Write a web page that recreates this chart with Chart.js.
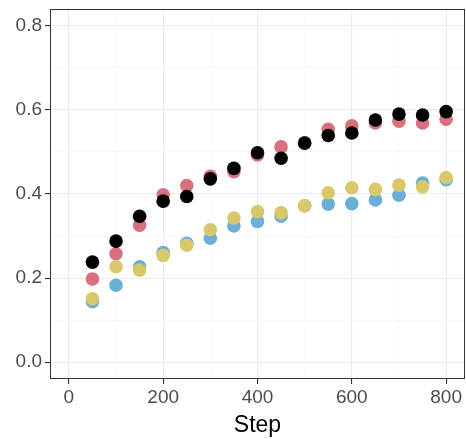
<!DOCTYPE html>
<html>
<head>
<meta charset="utf-8">
<script src="https://cdn.jsdelivr.net/npm/chart.js@4.4.1/dist/chart.umd.min.js"></script>
<style>
  html, body { margin: 0; padding: 0; background: #fff; overflow: hidden; }
  canvas { display: block; }
</style>
</head>
<body>
<canvas id="chart" width="466" height="439"></canvas>
<script>
// ── Data ──────────────────────────────────────────────────────────────────────
const steps = [50, 100, 150, 200, 250, 300, 350, 400, 450, 500, 550, 600, 650, 700, 750, 800];

const redVals    = [0.198, 0.258, 0.326, 0.398, 0.420, 0.442, 0.453, 0.493, 0.512, 0.522, 0.554, 0.562, 0.569, 0.573, 0.569, 0.578];
const blueVals   = [0.144, 0.183, 0.227, 0.261, 0.283, 0.295, 0.324, 0.335, 0.347, 0.372, 0.376, 0.377, 0.386, 0.397, 0.426, 0.434];
const yellowVals = [0.151, 0.227, 0.219, 0.254, 0.278, 0.315, 0.343, 0.358, 0.355, 0.372, 0.403, 0.415, 0.411, 0.421, 0.417, 0.439];
const blackVals  = [0.238, 0.288, 0.347, 0.383, 0.394, 0.436, 0.461, 0.498, 0.485, 0.521, 0.539, 0.545, 0.576, 0.590, 0.588, 0.596];

const xGrid = [0, 100, 200, 300, 400, 500, 600, 700, 800];
const xMajor = [0, 200, 400, 600, 800];
const yGrid = [0, 0.1, 0.2, 0.3, 0.4, 0.5, 0.6, 0.7, 0.8];
const yMajor = [0, 0.2, 0.4, 0.6, 0.8];

const COLORS = { red: '#D9707F', blue: '#6BAED6', yellow: '#D8C86A', black: '#000000' };
const FONT = 'Liberation Sans, Arial, sans-serif';

const isMajor = (list, v) => list.some(m => Math.abs(m - v) < 1e-6);
const pts = vals => vals.map((v, i) => ({ x: steps[i], y: v }));

function series(label, vals, color) {
  return {
    label, data: pts(vals),
    backgroundColor: color, borderColor: color,
    pointRadius: 6.8, pointHoverRadius: 6.8, borderWidth: 0, showLine: false
  };
}

// panel border (theme_bw)
const panelBorder = {
  id: 'panelBorder',
  afterDraw(chart) {
    const { ctx, chartArea: a } = chart;
    ctx.save();
    ctx.strokeStyle = '#333333';
    ctx.lineWidth = 1;
    ctx.strokeRect(a.left + 0.5, a.top + 0.5, a.right - a.left - 1, a.bottom - a.top - 1);
    ctx.restore();
  }
};

const gridOpts = major => ({
  color: c => isMajor(major, c.tick.value) ? '#EBEBEB' : '#F4F4F4',
  lineWidth: c => isMajor(major, c.tick.value) ? 1.1 : 0.6,
  tickColor: c => isMajor(major, c.tick.value) ? '#333333' : 'rgba(0,0,0,0)',
  tickLength: 5,
  tickWidth: 1.1
});

// first dataset is drawn on top in Chart.js
new Chart(document.getElementById('chart'), {
  type: 'scatter',
  data: {
    datasets: [
      series('black', blackVals, COLORS.black),
      series('yellow', yellowVals, COLORS.yellow),
      series('blue', blueVals, COLORS.blue),
      series('red', redVals, COLORS.red)
    ]
  },
  options: {
    responsive: false, animation: false,
    layout: { autoPadding: false, padding: { top: 9, right: 1, left: 0, bottom: 0 } },
    plugins: { legend: { display: false }, tooltip: { enabled: false } },
    scales: {
      x: {
        type: 'linear', min: -40, max: 840,
        afterBuildTicks: s => { s.ticks = xGrid.map(v => ({ value: v })); },
        afterFit: s => { s.height = 60; s.paddingLeft = 0; s.paddingRight = 0; },
        border: { display: false },
        grid: gridOpts(xMajor),
        ticks: {
          autoSkip: false, maxRotation: 0, padding: 2,
          color: '#4D4D4D', font: { family: FONT, size: 19 },
          callback: v => isMajor(xMajor, v) ? String(v) : ''
        },
        title: {
          display: true, text: 'Step', color: '#000000', padding: { top: 0, bottom: 0 },
          font: { family: FONT, size: 23 }
        }
      },
      y: {
        type: 'linear', min: -0.04, max: 0.84,
        afterBuildTicks: s => { s.ticks = yGrid.map(v => ({ value: v })); },
        afterFit: s => { s.width = 50; s.paddingTop = 0; s.paddingBottom = 0; },
        border: { display: false },
        grid: gridOpts(yMajor),
        ticks: {
          autoSkip: false, padding: 3,
          color: '#4D4D4D', font: { family: FONT, size: 19 },
          callback: v => isMajor(yMajor, v) ? v.toFixed(1) : ''
        }
      }
    }
  },
  plugins: [panelBorder]
});
</script>
</body>
</html>
